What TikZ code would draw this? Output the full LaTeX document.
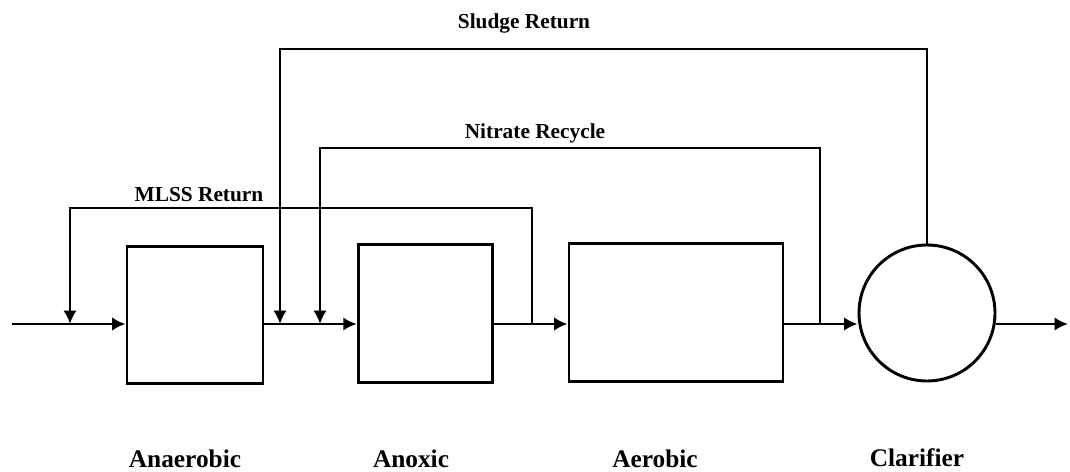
\documentclass[tikz,border=0pt]{standalone}
\usepackage{fontspec}
\setmainfont{Liberation Serif}
\usetikzlibrary{arrows.meta,positioning}

\begin{document}
\begin{tikzpicture}[x=0.75pt, y=0.75pt,
    % === STYLES ===
    tank/.style={draw, line width=2.2pt, inner sep=0pt, minimum height=103pt},
    settler/.style={draw, circle, line width=2.2pt, inner sep=0pt, minimum size=102pt},
    pipe/.style={line width=2.2pt},
    flow/.style={pipe, -{Latex[length=10pt,width=10pt]}},
    unit label/.style={font=\bfseries\fontsize{19}{22}\selectfont},
    line label/.style={font=\bfseries\fontsize{16}{19}\selectfont},
]
    \useasboundingbox (0,0) rectangle (1070,471);

    % === TANKS ===
    \node[tank, minimum width=102pt] (anaer) at (195,156) {};
    \node[tank, minimum width=101pt] (anox) at (425.5,157.5) {};
    \node[tank, minimum width=160.5pt] (aer) at (676,158.5) {};
    \node[settler] (clar) at (927,158) {};

    % === POINTS ON THE MAIN LINE ===
    \coordinate (in) at (12,147);
    \coordinate (out) at (1068,147);
    \coordinate (mlssin) at (70,147);
    \coordinate (sludgein) at (280,147);
    \coordinate (nitin) at (320,147);
    \coordinate (mlssj) at (532,147);
    \coordinate (nitj) at (820,147);

    % === MAIN FLOW ===
    \draw[flow] (in) -- (anaer.west |- in);
    \draw[flow] (anaer.east |- in) -- (anox.west |- in);
    \draw[flow] (anox.east |- in) -- (aer.west |- in);
    \draw[flow] (aer.east |- in) -- (clar.west |- in);
    \draw[flow] (clar.east |- in) -- (out);

    % === RECYCLES ===
    \draw[flow] (mlssj) -- (532,263) -| (mlssin);
    \draw[flow] (nitj) -- (820,323) -| (nitin);
    \draw[flow] (clar.north) -- (clar.north |- 0,422) -| (sludgein);

    % === LABELS ===
    \node[line label] (mlsslab) at (199,276) {MLSS Return};
    \node[line label] (nitlab) at (535,338) {Nitrate Recycle};
    \node[line label] (sludgelab) at (524,448) {Sludge Return};

    \node[unit label] (anaerlab) at (185,12) {Anaerobic};
    \node[unit label] (anoxlab) at (411,12) {Anoxic};
    \node[unit label] (aerlab) at (655,12) {Aerobic};
    \node[unit label] (clarlab) at (917,13) {Clarifier};
\end{tikzpicture}
\end{document}
